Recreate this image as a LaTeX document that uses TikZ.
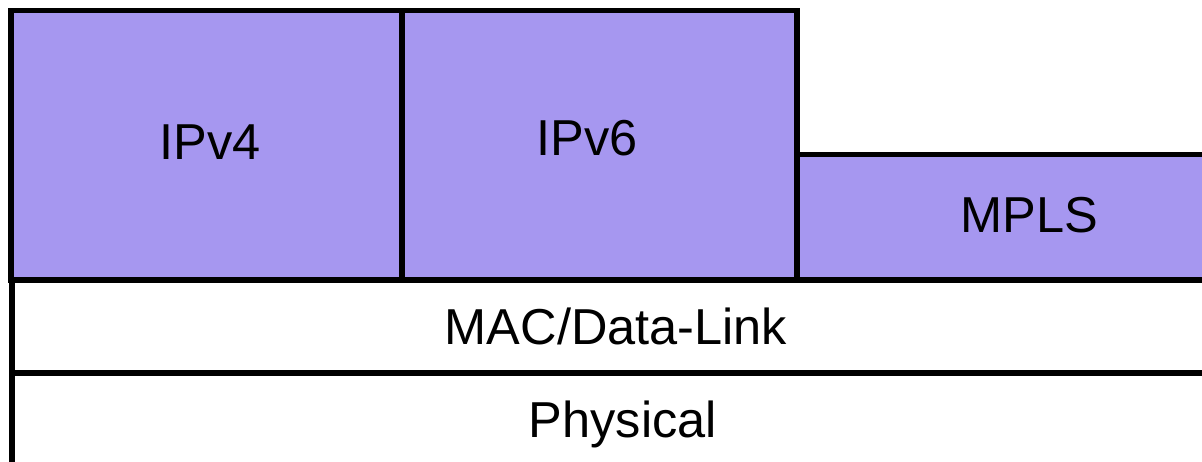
\documentclass[tikz,border=0pt]{standalone}
\usepackage{fontspec}
\setmainfont{Liberation Sans}
\definecolor{layerfill}{RGB}{166,151,240}
\begin{document}
\begin{tikzpicture}[x=1pt,y=-1pt,
  layer/.style={draw=black,line width=5.5pt,line join=miter},
  upper/.style={layer,fill=layerfill},
  lower/.style={layer,fill=white},
  label/.style={font=\fontsize{50.5}{60}\selectfont,anchor=base,inner sep=0pt}]
  \useasboundingbox (0,0) rectangle (1202,461);
  \clip (0,0) rectangle (1202,461);
  % lower layers, running off the right and bottom edges
  \path[lower] (12,373) rectangle (1240,500);
  \path[lower] (12,280) rectangle (1240,373);
  % network layers
  \path[upper] (795,154.5) rectangle (1240,280);
  \path[upper] (11,10.5) rectangle (402,280);
  \path[upper] (402,10.5) rectangle (797,280);
  % layer names
  \node[label] (ipv4) at (210,159) {IPv4};
  \node[label] (ipv6) at (587,155) {IPv6};
  \node[label] (mpls) at (1029,232) {MPLS};
  \node[label] (mac) at (616,344) {MAC/Data-Link};
  \node[label] (phy) at (623,437) {Physical};
\end{tikzpicture}
\end{document}
